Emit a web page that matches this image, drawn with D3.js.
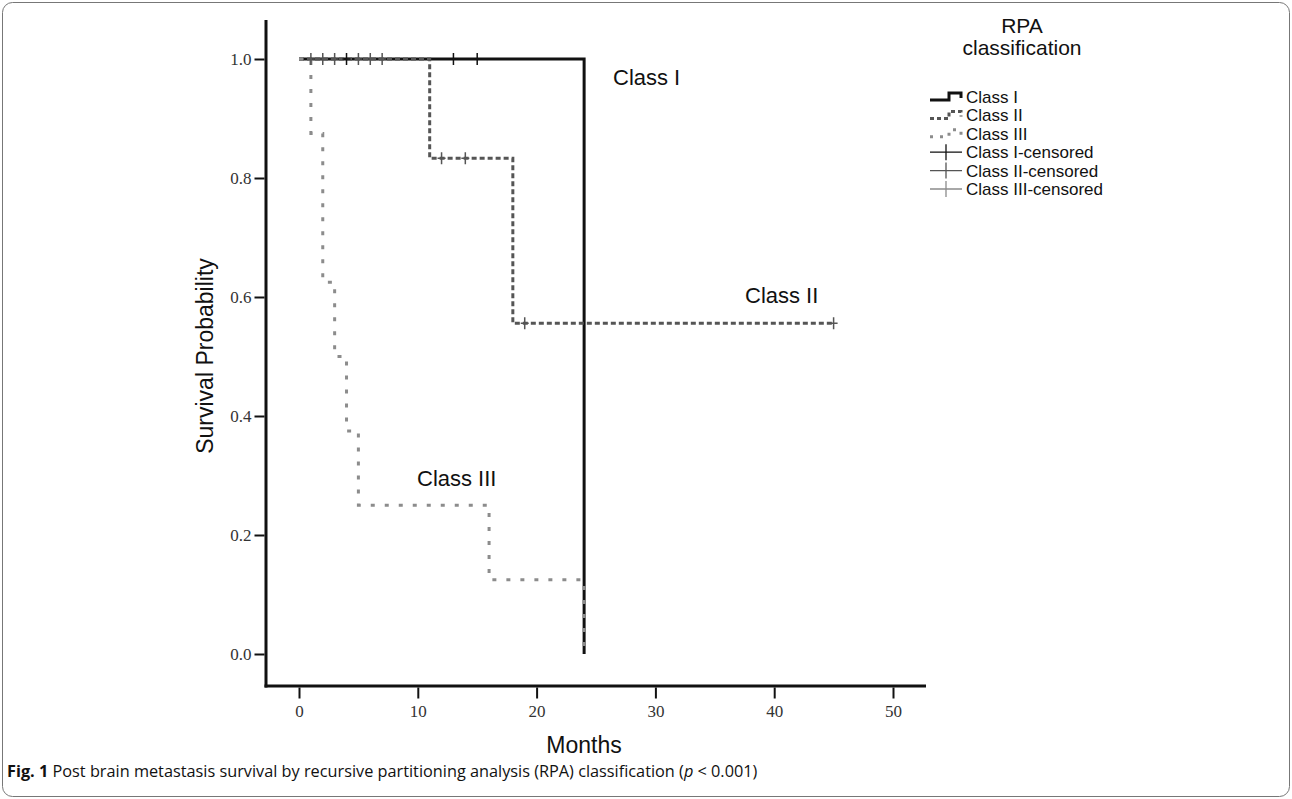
<!DOCTYPE html>
<html>
<head>
<meta charset="utf-8">
<script src="https://cdn.jsdelivr.net/npm/d3@7"></script>
<style>
  html, body { margin: 0; padding: 0; background: #fff; }
  svg { display: block; }
</style>
</head>
<body>
<svg id="chart" width="1292" height="799"></svg>
<script>
// ---- Data ----
const xTicks = [0, 10, 20, 30, 40, 50];
const yTicks = [0.0, 0.2, 0.4, 0.6, 0.8, 1.0];

const classITimes = [0, 24];
const classISurv  = [1.0, 0.0];
const classIEnd   = 24;

const classIITimes = [0, 11, 18];
const classIISurv  = [1.0, 0.833, 0.556];
const classIIEnd   = 45;

const classIIITimes = [0, 1, 2, 3, 4, 5, 16, 24];
const classIIISurv  = [1.0, 0.875, 0.625, 0.5, 0.375, 0.25, 0.125, 0.0];
const classIIIEnd   = 24;

const classICensored   = [4, 13, 15];
const classIICensored  = [1, 2, 3, 5, 6, 7, 12, 14, 19, 45];
const classIIICensored = [];

const seriesNames = ["Class I", "Class II", "Class III"];
const legendNames = ["Class I", "Class II", "Class III", "Class I-censored", "Class II-censored", "Class III-censored"];

// ---- Setup ----
const svg = d3.select("#chart");
const x = d3.scaleLinear().domain([0, 50]).range([299, 893]);
const y = d3.scaleLinear().domain([0, 1]).range([654, 59]);

const styles = [
  { color: "#111", width: 3, dash: null },
  { color: "#555", width: 3, dash: "5,3" },
  { color: "#8c8c8c", width: 3, dash: "4,10" }
];
const censorColors = ["#111", "#555", "#8c8c8c"];

// outer frame
svg.append("rect").attr("x", 2.5).attr("y", 2.5).attr("width", 1287).attr("height", 794)
  .attr("rx", 10).attr("fill", "none").attr("stroke", "#777").attr("stroke-width", 1);

// axes
const axisX0 = 266, axisY0 = 686;
svg.append("line").attr("x1", axisX0).attr("x2", axisX0).attr("y1", 20).attr("y2", axisY0 + 1.5)
  .attr("stroke", "#111").attr("stroke-width", 3);
svg.append("line").attr("x1", axisX0 - 1.5).attr("x2", 926).attr("y1", axisY0).attr("y2", axisY0)
  .attr("stroke", "#111").attr("stroke-width", 3);

const gx = svg.append("g").attr("transform", `translate(0,${axisY0 + 1.5})`)
  .call(d3.axisBottom(x).tickValues(xTicks).tickSize(11).tickSizeOuter(0).tickPadding(6).tickFormat(d3.format("d")));
gx.select(".domain").remove();
gx.selectAll(".tick line").attr("stroke", "#111").attr("stroke-width", 2);
gx.selectAll(".tick text").attr("font-family", "Liberation Serif, serif").attr("font-size", 17).attr("fill", "#333");

const gy = svg.append("g").attr("transform", `translate(${axisX0 - 1.5},0)`)
  .call(d3.axisLeft(y).tickValues(yTicks).tickSize(10).tickSizeOuter(0).tickPadding(3).tickFormat(d3.format(".1f")));
gy.select(".domain").remove();
gy.selectAll(".tick line").attr("stroke", "#111").attr("stroke-width", 2);
gy.selectAll(".tick text").attr("font-family", "Liberation Serif, serif").attr("font-size", 17).attr("fill", "#333");

// axis titles
svg.append("text").attr("x", 584).attr("y", 753).attr("text-anchor", "middle")
  .attr("font-family", "Liberation Sans, Arial, sans-serif").attr("font-size", 23).attr("fill", "#111").text("Months");
svg.append("text").attr("transform", "translate(213,356) rotate(-90)").attr("text-anchor", "middle")
  .attr("font-family", "Liberation Sans, Arial, sans-serif").attr("font-size", 23).attr("fill", "#111").text("Survival Probability");

// ---- Curves ----
function stepPoints(times, surv, end) {
  const pts = times.map((t, i) => [t, surv[i]]);
  if (end > times[times.length - 1]) pts.push([end, surv[surv.length - 1]]);
  return pts;
}
function survAt(times, surv, t) {
  let s = surv[0];
  for (let i = 0; i < times.length; i++) if (times[i] <= t) s = surv[i];
  return s;
}
const line = d3.line().x(d => x(d[0])).y(d => y(d[1])).curve(d3.curveStepAfter);

const series = [
  { times: classITimes, surv: classISurv, end: classIEnd, cens: classICensored },
  { times: classIITimes, surv: classIISurv, end: classIIEnd, cens: classIICensored },
  { times: classIIITimes, surv: classIIISurv, end: classIIIEnd, cens: classIIICensored }
];

series.forEach((s, i) => {
  svg.append("path").attr("d", line(stepPoints(s.times, s.surv, s.end)))
    .attr("fill", "none").attr("stroke", styles[i].color).attr("stroke-width", styles[i].width)
    .attr("stroke-dasharray", styles[i].dash);
});

series.forEach((s, i) => {
  svg.append("g").selectAll("path").data(s.cens).join("path")
    .attr("d", t => {
      const cx = x(t), cy = y(survAt(s.times, s.surv, t));
      return `M${cx},${cy - 6}V${cy + 6}M${cx - 4},${cy}H${cx + 4}`;
    })
    .attr("stroke", censorColors[i]).attr("stroke-width", 1.5).attr("fill", "none");
});

// curve labels
const labelFont = "Liberation Sans, Arial, sans-serif";
[["Class I", 613, 85], ["Class II", 745, 303], ["Class III", 417, 486]].forEach(([t, lx, ly]) => {
  svg.append("text").attr("x", lx).attr("y", ly).attr("font-family", labelFont).attr("font-size", 22)
    .attr("fill", "#111").text(t);
});

// ---- Legend ----
const lg = svg.append("g");
lg.append("text").attr("x", 1022).attr("y", 33).attr("text-anchor", "middle").attr("font-family", labelFont)
  .attr("font-size", 21).attr("fill", "#111").text("RPA");
lg.append("text").attr("x", 1022).attr("y", 55).attr("text-anchor", "middle").attr("font-family", labelFont)
  .attr("font-size", 21).attr("fill", "#111").text("classification");

const rowY = d3.scalePoint().domain(legendNames).range([97, 189]);
legendNames.forEach((name, k) => {
  const ry = rowY(name);
  if (k < 3) {
    const st = styles[k];
    lg.append("path").attr("d", `M930,${ry + 3}H949V${ry - 4}H961V${ry + 1}`)
      .attr("fill", "none").attr("stroke", st.color).attr("stroke-width", 3)
      .attr("stroke-dasharray", k === 0 ? null : (k === 1 ? "4,3" : "3,7"));
  } else {
    const c = censorColors[k - 3];
    lg.append("path").attr("d", `M930,${ry}H962M946,${ry - 8}V${ry + 8}`)
      .attr("fill", "none").attr("stroke", c).attr("stroke-width", 1.3);
  }
  lg.append("text").attr("x", 966).attr("y", ry + 6).attr("font-family", labelFont).attr("font-size", 17)
    .attr("fill", "#111").text(name);
});

// ---- Caption ----
const cap = svg.append("text").attr("x", 7).attr("y", 777).attr("font-family", "Open Sans, sans-serif")
  .attr("font-size", 16.3).attr("fill", "#111");
cap.append("tspan").attr("font-weight", "bold").text("Fig. 1");
cap.append("tspan").text(" Post brain metastasis survival by recursive partitioning analysis (RPA) classification (");
cap.append("tspan").attr("font-style", "italic").text("p");
cap.append("tspan").text(" < 0.001)");
</script>
</body>
</html>
